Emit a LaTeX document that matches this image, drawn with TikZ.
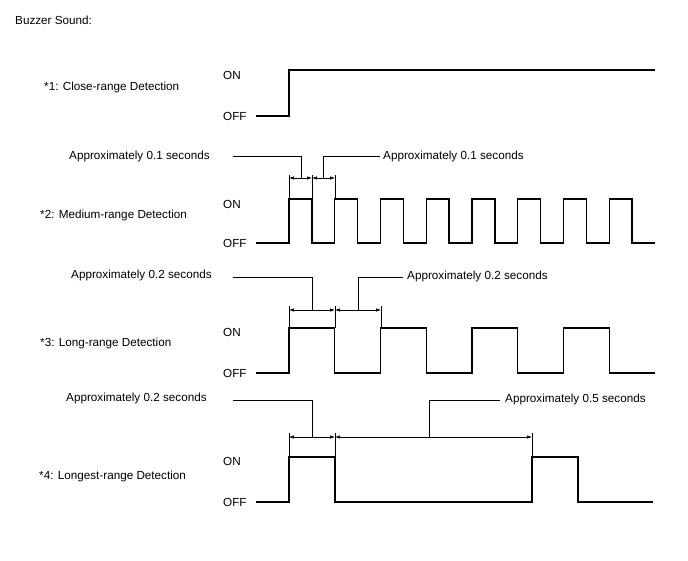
\documentclass[tikz,border=0pt]{standalone}
\usepackage{fontspec}
\setmainfont{Liberation Sans}
\usetikzlibrary{arrows.meta}

\tikzset{
  sig/.style={line width=1.4pt, line join=miter},
  dimline/.style={line width=0.6pt, {Latex[length=5pt,width=3.5pt]}-{Latex[length=5pt,width=3.5pt]}},
  extline/.style={line width=0.6pt},
  leader/.style={line width=0.8pt},
  lbl/.style={inner sep=0pt, anchor=west, font=\fontsize{11.7}{14}\selectfont},
}

\begin{document}
\begin{tikzpicture}[x=1pt,y=-1pt]

	\useasboundingbox (0,0) rectangle (688,560);

	%title
	\node[lbl] (title) at (15,20) {Buzzer Sound:};

	%*1 close range
	\node[lbl] (d1) at (44,87) {*1: Close-range Detection};
	\node[lbl] (on1) at (223,75) {ON};
	\node[lbl] (off1) at (223,116) {OFF};
	\draw[sig] (256,116) -- (289,116) -- (289,70) -- (655,70);

	%*2 medium range
	\node[lbl] (d2) at (40,215) {*2: Medium-range Detection};
	\node[lbl] (on2) at (223,204) {ON};
	\node[lbl] (off2) at (223,243) {OFF};
	\draw[sig] (256,243) foreach \k in {0,...,7} {
		-- ({289+45.75*\k},243) -- ++(0,-44) -- ++(22.875,0) -- ++(0,44)} -- (655,243);

	\foreach \x in {289,312,335}
		\draw[extline] (\x,175) -- (\x,199);
	\draw[dimline] (289,178) -- (312,178);
	\draw[dimline] (312,178) -- (335,178);

	\node[lbl] (a2l) at (69,156) {Approximately 0.1 seconds};
	\node[lbl] (a2r) at (383,156) {Approximately 0.1 seconds};
	\coordinate (p2l) at (233,156.5);
	\coordinate (m2l) at (301,178);
	\coordinate (m2r) at (323,178);
	\draw[leader] (p2l) -| (m2l);
	\draw[leader] (m2r) |- (380,156.5);

	%*3 long range
	\node[lbl] (d3) at (40,343) {*3: Long-range Detection};
	\node[lbl] (on3) at (223,332) {ON};
	\node[lbl] (off3) at (223,373) {OFF};
	\draw[sig] (256,373) foreach \k in {0,...,3} {
		-- ({289+91.5*\k},373) -- ++(0,-45) -- ++(45.75,0) -- ++(0,45)} -- (655,373);

	\foreach \x in {289,335,381}
		\draw[extline] (\x,306) -- (\x,328);
	\draw[dimline] (289,310) -- (335,310);
	\draw[dimline] (335,310) -- (381,310);

	\node[lbl] (a3l) at (71,275) {Approximately 0.2 seconds};
	\node[lbl] (a3r) at (407,276) {Approximately 0.2 seconds};
	\coordinate (p3l) at (233,277);
	\coordinate (m3l) at (312,310);
	\coordinate (m3r) at (358,310);
	\draw[leader] (p3l) -| (m3l);
	\draw[leader] (m3r) |- (403,277);

	%*4 longest range
	\node[lbl] (d4) at (39,476) {*4: Longest-range Detection};
	\node[lbl] (on4) at (223,461) {ON};
	\node[lbl] (off4) at (223,502) {OFF};
	\draw[sig] (256,502) -- (289,502) -- (289,457) -- (335,457) -- (335,502)
		-- (532,502) -- (532,457) -- (578,457) -- (578,502) -- (653,502);

	\foreach \x in {289,335,532}
		\draw[extline] (\x,433) -- (\x,457);
	\draw[dimline] (289,437) -- (335,437);
	\draw[dimline] (335,437) -- (532,437);

	\node[lbl] (a4l) at (66,398) {Approximately 0.2 seconds};
	\node[lbl] (a4r) at (505,399) {Approximately 0.5 seconds};
	\coordinate (p4l) at (233,400);
	\coordinate (m4l) at (312,437);
	\coordinate (m4r) at (429,437);
	\draw[leader] (p4l) -| (m4l);
	\draw[leader] (m4r) |- (500,400);

\end{tikzpicture}
\end{document}
